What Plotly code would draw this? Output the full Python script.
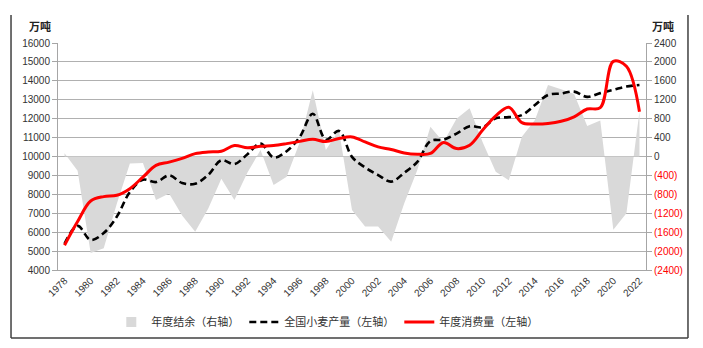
import plotly.graph_objects as go

years = list(range(1978, 2023))

production = [5384, 6330, 5590, 5950, 6820, 8120, 8770, 8650, 9000, 8600,
              8560, 9030, 9800, 9600, 10120, 10680, 9950, 10280, 11030, 12260,
              10890, 11350, 9980, 9420, 9020, 8670, 9140, 9720, 10820, 10890,
              11210, 11600, 11550, 12020, 12080, 12190, 12720, 13250, 13330, 13430,
              13150, 13350, 13520, 13700, 13780]

consumption = [5310, 6560, 7650, 7880, 7950, 8300, 8910, 9530, 9700, 9900,
               10150, 10240, 10280, 10580, 10460, 10540, 10580, 10680, 10800, 10910,
               10790, 10950, 11035, 10770, 10510, 10370, 10190, 10120, 10160, 10740,
               10420, 10600, 11400, 12150, 12600, 11790, 11720, 11750, 11860, 12100,
               12510, 12580, 15030, 14770, 12370]

surplus = [70, -300, -2040, -1940, -1000, -150, -140, -920, -780, -1250,
           -1590, -1100, -470, -920, -340, 135, -600, -430, 300, 1400,
           135, 560, -1130, -1480, -1480, -1800, -990, -285, 630, 300,
           800, 1020, 300, -320, -500, 420, 770, 1510, 1420, 1320,
           645, 760, -1550, -1200, 950]

left_ticks = list(range(4000, 16001, 1000))
right_ticks = list(range(-2400, 2401, 400))
year_ticks = list(range(1978, 2023, 2))


def fmt_right(v):
    if v < 0:
        return '<span style="color:#ff0000">(' + str(abs(v)) + ')</span>'
    return str(v)


right_text = [fmt_right(v) for v in right_ticks]

FONT = "Liberation Sans, Arial, Noto Sans CJK SC, sans-serif"
CJK = "Noto Sans CJK SC, sans-serif"

fig = go.Figure()
fig.add_trace(go.Scatter(
    x=years, y=surplus, yaxis="y", fill="tozeroy", mode="lines",
    line=dict(width=0, color="#d9d9d9"), fillcolor="#d9d9d9",
    name="年度结余（右轴）", showlegend=False))
fig.add_trace(go.Scatter(
    x=[None], y=[None], yaxis="y", mode="markers",
    marker=dict(symbol="square", size=10, color="#d9d9d9"),
    name="年度结余（右轴）"))
fig.add_trace(go.Scatter(
    x=years, y=production, yaxis="y2", mode="lines",
    line=dict(color="#000000", width=2.6, dash="7px,4px", shape="spline", smoothing=1),
    name="全国小麦产量（左轴）"))
fig.add_trace(go.Scatter(
    x=years, y=consumption, yaxis="y2", mode="lines",
    line=dict(color="#ff0000", width=3, shape="spline", smoothing=1),
    name="年度消费量（左轴）"))

fig.update_layout(
    width=703, height=348,
    margin=dict(l=58, r=57, t=43, b=78, pad=0),
    paper_bgcolor="white", plot_bgcolor="white",
    font=dict(family=FONT, size=10, color="#333333"),
    showlegend=True,
    legend=dict(orientation="h", x=0.458, xanchor="center", y=-0.229, yanchor="middle",
                font=dict(family=CJK, size=11, color="#333333"),
                itemwidth=30, tracegroupgap=0, bgcolor="rgba(0,0,0,0)"),
    xaxis=dict(range=[1977.5, 2022.5], tickmode="array", tickvals=year_ticks,
               ticktext=[str(y) for y in year_ticks], tickangle=-45,
               showgrid=False, zeroline=False, showline=True, linecolor="#a6a6a6",
               ticks="", tickfont=dict(size=10, color="#333333")),
    yaxis=dict(range=[-2400, 2400], side="right", tickmode="array",
               tickvals=right_ticks, ticktext=right_text,
               showgrid=True, gridcolor="#b0b0b0", gridwidth=1, zeroline=False,
               showline=True, linecolor="#a6a6a6", ticks="outside", ticklen=5,
               tickcolor="#a6a6a6", tickfont=dict(size=10, color="#333333")),
    yaxis2=dict(range=[4000, 16000], side="left", overlaying="y", tickmode="array",
                tickvals=left_ticks, ticktext=[str(v) for v in left_ticks],
                showgrid=False, zeroline=False, showline=True, linecolor="#a6a6a6",
                ticks="outside", ticklen=5, tickcolor="#a6a6a6",
                tickfont=dict(size=10, color="#333333")),
    annotations=[
        dict(text="<b>万吨</b>", xref="paper", yref="paper", x=-0.0306, y=1.0749,
             showarrow=False, xanchor="center", yanchor="middle",
             font=dict(family=CJK, size=11, color="#222222")),
        dict(text="<b>万吨</b>", xref="paper", yref="paper", x=1.0289, y=1.0749,
             showarrow=False, xanchor="center", yanchor="middle",
             font=dict(family=CJK, size=11, color="#222222")),
    ],
    shapes=[
        dict(type="line", xref="paper", yref="paper", x0=-0.0799, x1=-0.0799,
             y0=-0.2996, y1=1.1233, line=dict(color="#404040", width=1.5)),
        dict(type="line", xref="paper", yref="paper", x0=1.0714, x1=1.0714,
             y0=-0.2996, y1=1.1233, line=dict(color="#404040", width=1.5)),
        dict(type="line", xref="paper", yref="paper", x0=-0.0799, x1=1.0714,
             y0=-0.2996, y1=-0.2996, line=dict(color="#404040", width=1.5)),
    ],
)

fig.write_html("out.html")
